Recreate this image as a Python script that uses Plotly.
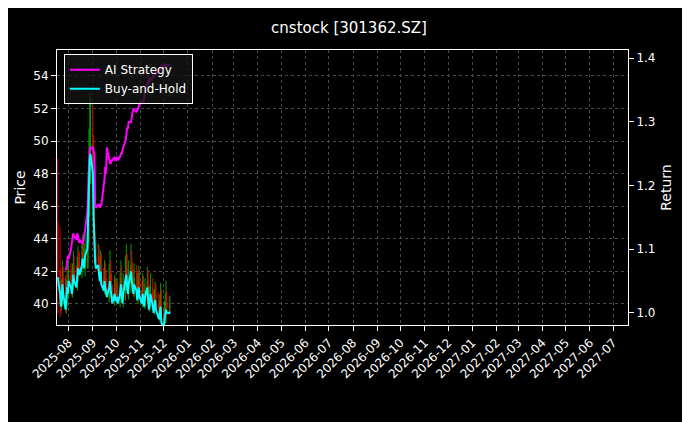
import plotly.graph_objects as go
import pandas as pd

# trading days shown
dates = pd.bdate_range("2025-07-18", periods=103)

# buy-and-hold return (close / entry price)
bh_return = [1.056, 1.03, 1.01, 1.02, 1.045, 1.03, 1.005, 1.02, 1.04, 1.03,
             1.05, 1.04, 1.03, 1.045, 1.06, 1.05, 1.04, 1.055, 1.07, 1.065, 1.06,
             1.075, 1.085, 1.08, 1.07, 1.09, 1.1, 1.15, 1.2, 1.24, 1.25,
             1.22, 1.15, 1.09, 1.08, 1.07, 1.075, 1.06, 1.05, 1.065, 1.045, 1.035,
             1.05, 1.04, 1.03, 1.025, 1.04, 1.05, 1.035, 1.02, 1.015, 1.03, 1.02,
             1.02, 1.025, 1.015, 1.03, 1.045, 1.02, 1.015, 1.03, 1.05, 1.06, 1.04,
             1.03, 1.045, 1.065, 1.05, 1.04, 1.03, 1.045,
             1.035, 1.02, 1.03, 1.04, 1.025, 1.015, 1.03, 1.02, 1.01, 1.025, 1.04,
             1.02, 1.005, 1.015, 1.03, 1.01, 1.0, 1.01, 1.02, 1.005,
             0.995, 0.99, 1.0, 1.01, 0.985, 0.975, 0.99, 1.0, 1.005, 1.0, 1.0, 1.002]

ai_return = [None] * 6 + [
    1.067, 1.07, 1.08, 1.09, 1.085, 1.1, 1.11, 1.12, 1.125, 1.12, 1.115,
    1.125, 1.12, 1.11, 1.115, 1.11, 1.11, 1.115, 1.12, 1.13, 1.16, 1.2,
    1.24, 1.255, 1.26, 1.26, 1.255, 1.25,
    1.17, 1.165, 1.17, 1.17, 1.165, 1.17, 1.17,
    1.2, 1.21, 1.23, 1.22, 1.26, 1.24, 1.235,
    1.235, 1.24, 1.24, 1.245, 1.24, 1.24, 1.245, 1.24, 1.245, 1.25, 1.25,
    1.255, 1.26, 1.27, 1.28, 1.29, 1.29, 1.30, 1.30, 1.31, 1.315, 1.32,
    1.32, 1.315, 1.32, 1.32, 1.325, 1.33, 1.33, 1.335, 1.33, 1.34, 1.35, 1.36,
    1.365, 1.36, 1.37, 1.365, 1.37, 1.375, 1.37, 1.38, 1.375, 1.38, 1.385,
    1.38, 1.385, 1.39, 1.385, 1.39, 1.39, 1.385, 1.39, 1.39, 1.39]

# candle wick size (price units)
wick = [6.5, 4.5, 2.0, 1.5, 1.8, 1.2, 1.3, 1.5, 1.8, 1.2,
        1.5, 1.2, 1.3, 1.5, 1.8, 1.2, 1.0, 1.5, 1.6, 1.2, 1.3,
        1.5, 1.8, 1.3, 1.2, 2.2, 3.0, 4.0, 5.0, 6.0, 5.0,
        4.0, 3.0, 2.2, 1.8, 1.5, 1.5, 1.3, 1.2, 1.5, 1.2, 1.0,
        1.5, 1.2, 1.3, 1.0, 1.8, 2.5, 1.5, 1.2, 1.0, 1.3, 1.0,
        1.2, 1.3, 1.0, 1.5, 1.8, 1.2, 1.0, 1.5, 2.0, 2.5, 1.5,
        1.3, 1.8, 2.2, 1.5, 1.3, 1.2, 1.5,
        1.3, 1.2, 1.5, 1.6, 1.2, 1.0, 1.5, 1.2, 1.0, 1.3, 1.5,
        1.2, 1.0, 1.2, 1.5, 1.0, 0.9, 1.2, 1.3, 1.0,
        1.2, 1.0, 1.3, 1.8, 1.2, 1.0, 1.3, 1.5, 2.4, 1.3, 1.2, 1.0]

ENTRY = 39.8
close = [r * ENTRY for r in bh_return]
opn = [close[0] + 3.0] + close[:-1]
high = [max(o, c) + w * 0.6 for o, c, w in zip(opn, close, wick)]
low = [min(o, c) - w * 0.4 for o, c, w in zip(opn, close, wick)]

fig = go.Figure()
fig.add_trace(go.Candlestick(x=dates, open=opn, high=high, low=low, close=close,
                             increasing=dict(line=dict(color="#00a000", width=1), fillcolor="#00a000"),
                             decreasing=dict(line=dict(color="#e00000", width=1), fillcolor="#e00000"),
                             showlegend=False, whiskerwidth=0))
fig.add_trace(go.Scatter(x=dates, y=ai_return, name="AI Strategy", yaxis="y2",
                         line=dict(color="#ff00ff", width=2)))
fig.add_trace(go.Scatter(x=dates, y=bh_return, name="Buy-and-Hold", yaxis="y2",
                         line=dict(color="#00ffff", width=2)))

grid = dict(showgrid=True, gridcolor="#4a4a4a", griddash="dot", gridwidth=0.6,
            showline=True, linecolor="white", mirror=True, ticks="outside",
            tickcolor="white", zeroline=False)

fig.update_layout(
    width=682, height=414,
    paper_bgcolor="black", plot_bgcolor="black",
    font=dict(family="DejaVu Sans", color="white", size=12),
    title=dict(text="cnstock [301362.SZ]", x=0.5, y=0.965, font=dict(size=15)),
    margin=dict(l=49, r=62, t=42, b=97),
    xaxis=dict(type="date", range=["2025-07-17", "2027-07-20"], dtick="M1",
               tickformat="%Y-%m", tickangle=-45, rangeslider=dict(visible=False), **grid),
    yaxis=dict(title=dict(text="Price", standoff=4), range=[38.71, 55.59], dtick=2, **grid),
    yaxis2=dict(title=dict(text="Return", standoff=6), overlaying="y", side="right",
                range=[0.981, 1.413], dtick=0.1, tickformat=".1f", showgrid=False,
                showline=True, linecolor="white", ticks="outside", tickcolor="white",
                zeroline=False),
    legend=dict(x=0.012, y=0.985, xanchor="left", yanchor="top",
                bgcolor="rgba(20,20,20,0.8)", bordercolor="white", borderwidth=1,
                font=dict(size=12)),
)

fig.write_html("out.html")
